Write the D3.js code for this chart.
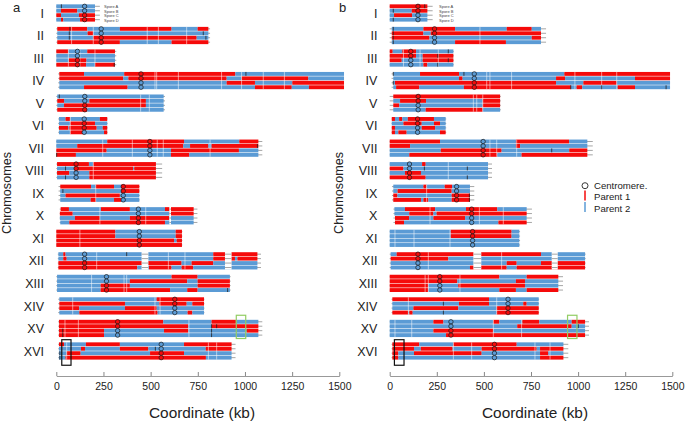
<!DOCTYPE html>
<html>
<head>
<meta charset="utf-8">
<style>
    html, body { margin: 0; padding: 0; background: #fff; }
    svg { display: block; }
    text { font-family: "Liberation Sans", Arial, sans-serif; }
</style>
<script src="https://d3js.org/d3.v7.min.js"></script>
</head>
<body>
<div id="viz"></div>
<script>
const chromNames = ["I", "II", "III", "IV", "V", "VI", "VII", "VIII", "IX", "X", "XI", "XII", "XIII", "XIV", "XV", "XVI"];
const sporeNames = ["Spore A", "Spore B", "Spore C", "Spore D"];
const centromeres = [150, 238, 112, 449, 151, 148, 496, 105, 355, 435, 440, 150, 266, 628, 325, 556];
const xTicks = [0, 250, 500, 750, 1000, 1250, 1500];

// each spore: first parent, start, breakpoints..., end (kb); parent flips at each breakpoint
const aI = [["B", 0, 205], ["B", 0, 25, 111, 205], ["R", 0, 25, 120, 205], ["B", 0, 25, 37, 126, 205]];
const aII = [["R", 5, 164, 337, 611, 749, 806], ["B", 5, 166, 196, 806], ["B", 5, 196, 744, 806], ["R", 5, 337, 611, 806]];
const aIII = [["R", 0, 64, 164, 311], ["B", 0, 311], ["B", 0, 66, 160, 311], ["R", 0, 158, 205, 311]];
const aIV = [["R", 16, 147, 360, 949, 1525], ["R", 16, 355, 382, 903, 982, 1336, 1525], ["B", 16, 903, 1053, 1251, 1525], ["B", 16, 147, 378, 1053, 1248, 1339, 1525]];
const aV = [["B", 5, 569], ["R", 5, 41, 175, 475, 569], ["B", 5, 41, 475, 569], ["R", 5, 164, 569]];
const aVI = [["B", 14, 49, 74, 231, 270], ["B", 14, 74, 205, 270], ["R", 14, 64, 69, 214, 246, 270], ["B", 14, 74, 143, 253, 270]];
const aVII = [["B", 0, 270, 677, 970, 1071], ["B", 0, 111, 673, 709, 806, 823, 1071], ["R", 0, 267, 608, 968, 1071], ["R", 0, 104, 608, 705, 1071]];
const aVIII = [["R", 4, 173, 196, 528], ["B", 4, 94, 408, 413, 528], ["R", 4, 69, 175, 528], ["B", 4, 175, 528]];
const aIX = [["R", 21, 184, 209, 306, 343, 440], ["B", 21, 343, 440], ["B", 21, 49, 337, 440], ["B", 21, 182, 210, 306, 343, 440]];
const aX = [["R", 23, 67, 237, 390, 576, 728], ["R", 19, 87, 599, 728], ["B", 19, 99, 231, 390, 599, 728], ["B", 21, 69, 576, 728]];
const aXI = [["R", 0, 313, 633, 666], ["R", 0, 313, 633, 666], ["R", 0, 624, 638, 666], ["R", 0, 666]];
const aXII = [["B", 11, 37, 49, 832, 1066], ["B", 11, 37, 55, 832, 947, 960, 1066], ["R", 11, 664, 717, 832, 1066], ["R", 11, 429, 491, 611, 664, 726, 1066]];
const aXIII = [["B", 4, 611, 749, 920], ["B", 4, 390, 694, 749, 920], ["B", 4, 235, 390, 749, 920], ["B", 4, 235, 603, 694, 749, 920]];
const aXIV = [["B", 16, 532, 783], ["R", 16, 364, 546, 691, 721, 783], ["R", 16, 122, 364, 532, 783], ["B", 16, 122, 537, 696, 721, 783]];
const aXV = [["R", 14, 567, 823, 952, 1071], ["R", 14, 700, 823, 1071], ["R", 14, 253, 571, 700, 1009, 1071], ["R", 14, 253, 1071]];
const aXVI = [["R", 14, 41, 157, 337, 677, 929], ["B", 14, 131, 152, 337, 488, 792, 929], ["B", 14, 55, 129, 497, 677, 929], ["B", 14, 49, 793, 929]];

const bI = [["R", 0, 200], ["B", 0, 117, 200], ["B", 0, 23, 119, 200], ["B", 0, 200]];
const bII = [["B", 11, 179, 347, 621, 754, 803], ["R", 11, 179, 218, 803], ["R", 11, 211, 754, 803], ["B", 11, 347, 617, 803]];
const bIII = [["R", 0, 16, 67, 140, 338], ["R", 0, 140, 175, 338], ["R", 0, 64, 175, 338], ["B", 0, 179, 200, 338]];
const bIV = [["B", 19, 161, 368, 927, 1488], ["B", 19, 368, 387, 883, 931, 1302, 1488], ["B", 19, 28, 883, 1028, 1205, 1488], ["B", 19, 34, 157, 394, 962, 992, 1022, 1210, 1302, 1488]];
const bV = [["R", 19, 586], ["B", 19, 55, 193, 494, 586], ["R", 19, 51, 494, 586], ["B", 19, 191, 494, 586]];
const bVI = [["R", 11, 28, 50, 67, 96, 235, 297], ["B", 11, 73, 170, 235, 267, 297], ["R", 11, 28, 170, 241, 297], ["R", 11, 28, 46, 90, 267, 297]];
const bVII = [["R", 0, 267, 670, 952, 1049], ["R", 0, 108, 670, 692, 1049], ["B", 0, 271, 594, 953, 1049], ["B", 0, 104, 571, 700, 1049]];
const bVIII = [["B", 0, 172, 191, 522], ["R", 0, 73, 522], ["B", 0, 81, 166, 522], ["R", 0, 191, 522]];
const bIX = [["B", 19, 179, 196, 292, 331, 426], ["B", 19, 42, 329, 426], ["R", 19, 41, 329, 426], ["R", 19, 166, 179, 205, 329, 426]];
const bX = [["B", 25, 81, 241, 405, 571, 727], ["B", 25, 104, 232, 249, 727], ["R", 28, 103, 232, 400, 727], ["R", 28, 76, 577, 727]];
const bXI = [["B", 0, 324, 647, 688], ["B", 0, 324, 647, 688], ["B", 0, 688], ["B", 0, 688]];
const bXII = [["B", 5, 37, 803, 1037], ["R", 5, 311, 1037], ["B", 5, 621, 674, 803, 1037], ["B", 5, 426, 621, 674, 1037]];
const bXIII = [["R", 0, 582, 727, 895], ["R", 0, 359, 670, 718, 895], ["R", 0, 205, 364, 718, 895], ["R", 0, 205, 582, 670, 727, 895]];
const bXIV = [["R", 14, 527, 791], ["B", 14, 368, 527, 709, 727, 791], ["B", 14, 126, 364, 568, 791], ["R", 14, 99, 104, 122, 568, 791]];
const bXV = [["B", 0, 232, 285, 550, 582, 704, 794, 966, 1037], ["B", 0, 677, 966, 1037], ["B", 0, 232, 550, 1037], ["B", 0, 299, 1037]];
const bXVI = [["R", 14, 157, 338, 674, 922], ["R", 14, 129, 165, 334, 488, 780, 798, 922], ["R", 14, 46, 129, 488, 798, 842, 922], ["R", 14, 46, 798, 922]];

const aRows = [aI, aII, aIII, aIV, aV, aVI, aVII, aVIII, aIX, aX, aXI, aXII, aXIII, aXIV, aXV, aXVI];
const bRows = [bI, bII, bIII, bIV, bV, bVI, bVII, bVIII, bIX, bX, bXI, bXII, bXIII, bXIV, bXV, bXVI];

// grey chromosome line, start and end (kb)
const aSpans = [[0, 231], [0, 815], [0, 318], [10, 1525], [0, 576], [10, 272], [0, 1092], [0, 561], [12, 442], [18, 748], [0, 668], [8, 1085], [0, 924], [10, 785], [10, 1092], [10, 950]];
const bSpans = [[0, 228], [0, 830], [0, 340], [10, 1488], [0, 590], [10, 300], [0, 1078], [0, 543], [12, 449], [20, 755], [0, 692], [0, 1040], [0, 920], [10, 793], [0, 1058], [10, 948]];

// thin white stripes where the markers are missing
const aStripes = [[], [81, 196, 482, 541, 691], [64, 125, 205], [523, 532, 647, 876, 982, 1097, 1209], [447, 493], [74], [246, 403, 535, 567, 815], [196], [209], [231, 474], [125], [214, 594, 682], [187, 359, 373], [87, 523, 550], [46, 117, 703], [55, 806, 850]];
const bStripes = [[], [479], [73, 161, 258], [515, 532, 647, 983, 1125, 1205], [444, 462, 494], [], [532, 568, 674], [311], [196], [214, 476, 603], [28, 129, 320], [205, 594], [188, 205, 373], [99, 568], [28, 117, 550, 700], [338, 435, 771, 851]];

// wider breaks in the coverage: chromosome index, from, to (kb)
const aGaps = [[9, 599, 608], [11, 452, 488], [11, 894, 929]];
const bGaps = [[11, 444, 486], [11, 860, 892]];

// small black marks: chromosome index, spore index, kb
const aMarks = [[0, 0, 27], [1, 0, 72], [1, 1, 69], [1, 2, 69], [1, 1, 779], [1, 2, 793], [2, 3, 307], [3, 0, 1005], [4, 0, 16], [6, 1, 1066], [6, 3, 2], [7, 1, 49], [7, 3, 49], [8, 1, 35], [11, 0, 373], [12, 3, 908], [14, 1, 850], [14, 1, 823], [14, 2, 823], [14, 3, 823], [14, 2, 34], [14, 3, 34], [15, 2, 19], [15, 3, 19], [15, 1, 525]];
const bMarks = [[0, 1, 19], [0, 3, 19], [0, 0, 186], [1, 0, 19], [1, 1, 19], [1, 2, 19], [1, 3, 19], [2, 1, 255], [2, 3, 255], [2, 0, 311], [2, 2, 311], [3, 0, 19], [3, 2, 19], [3, 0, 394], [3, 3, 961], [3, 3, 1125], [3, 3, 1467], [6, 2, 860], [7, 1, 184], [7, 1, 412], [7, 3, 412], [8, 2, 423], [8, 3, 423], [13, 1, 285], [13, 3, 285], [14, 1, 1001]];

// black and green boxes: from, to (kb)
const aBlackBox = [29, 78];
const aGreenBox = [954, 1004];
const bBlackBox = [25, 76];
const bGreenBox = [944, 994];

const parentColor = { R: "#f50a0a", B: "#5b9bd5" };

const width = 685;
const height = 421;
const rowStep = 4.45;
const barHeight = 3.9;
const chromY = d3.scalePoint().domain(chromNames).range([6.3, 344.3]);

const svg = d3.select("#viz").append("svg")
    .attr("width", width)
    .attr("height", height);

// turn ["R", start, bp, ..., end] into segments
function toSegments(spore) {
    const flip = { R: "B", B: "R" };
    let parent = spore[0];
    return d3.pairs(spore.slice(1)).map(([from, to]) => {
        const seg = { from, to, parent };
        parent = flip[parent];
        return seg;
    });
}

function parentAt(spore, kb) {
    const seg = toSegments(spore).find(d => kb >= d.from && kb < d.to);
    return seg ? seg.parent : spore[0];
}

function drawPanel(p) {
    const x = d3.scaleLinear().domain([0, 1500]).range(p.range);
    const marks = svg.append("g").style("filter", "blur(0.4px)");

    chromNames.forEach((name, c) => {
        const top = chromY(name);
        const rowY = s => top + s * rowStep;
        const g = marks.append("g");

        // grey lines behind the bars
        g.selectAll("line.span")
            .data(d3.range(4))
            .join("line")
            .attr("x1", x(p.spans[c][0]))
            .attr("x2", x(p.spans[c][1]))
            .attr("y1", s => rowY(s))
            .attr("y2", s => rowY(s))
            .attr("stroke", "#a6a6a6")
            .attr("stroke-width", 1);

        // parent blocks
        p.rows[c].forEach((spore, s) => {
            g.selectAll(null)
                .data(toSegments(spore))
                .join("rect")
                .attr("x", d => x(d.from))
                .attr("width", d => x(d.to) - x(d.from))
                .attr("y", rowY(s) - barHeight / 2)
                .attr("height", barHeight)
                .attr("fill", d => parentColor[d.parent]);
        });

        // white stripes
        g.selectAll(null)
            .data(p.stripes[c])
            .join("line")
            .attr("x1", d => x(d))
            .attr("x2", d => x(d))
            .attr("y1", rowY(0) - barHeight / 2)
            .attr("y2", rowY(3) + barHeight / 2)
            .attr("stroke", "#fff")
            .attr("stroke-opacity", 0.75)
            .attr("stroke-width", 0.7);

        // coverage breaks, the grey line shows through
        p.gaps.filter(d => d[0] === c).forEach(d => {
            g.append("rect")
                .attr("x", x(d[1]))
                .attr("width", x(d[2]) - x(d[1]))
                .attr("y", rowY(0) - barHeight / 2 - 0.2)
                .attr("height", rowStep * 3 + barHeight + 0.4)
                .attr("fill", "#fff");
            g.selectAll(null)
                .data(d3.range(4))
                .join("line")
                .attr("x1", x(d[1]))
                .attr("x2", x(d[2]))
                .attr("y1", s => rowY(s))
                .attr("y2", s => rowY(s))
                .attr("stroke", "#a6a6a6")
                .attr("stroke-width", 1);
        });

        // black marks
        g.selectAll(null)
            .data(p.marks.filter(d => d[0] === c))
            .join("line")
            .attr("x1", d => x(d[2]))
            .attr("x2", d => x(d[2]))
            .attr("y1", d => rowY(d[1]) - barHeight / 2)
            .attr("y2", d => rowY(d[1]) + barHeight / 2)
            .attr("stroke", "#222")
            .attr("stroke-width", 0.8);

        // centromeres
        g.selectAll(null)
            .data(d3.range(4))
            .join("circle")
            .attr("cx", x(centromeres[c]))
            .attr("cy", s => rowY(s))
            .attr("r", 2.2)
            .attr("fill", s => parentColor[parentAt(p.rows[c][s], centromeres[c])])
            .attr("stroke", "#1a1a1a")
            .attr("stroke-width", 0.7);

        // chromosome label
        svg.append("text")
            .attr("x", x(0) - 12.3)
            .attr("y", top + rowStep * 1.5 + 4.6)
            .attr("text-anchor", "end")
            .attr("font-size", 12.5)
            .attr("fill", "#222")
            .text(name);
    });

    // spore names next to chromosome I
    svg.selectAll(null)
        .data(sporeNames.map((d, s) => ({ name: d, s })), d => d.name + p.letter)
        .join("text")
        .attr("x", p.sporeX)
        .attr("y", d => chromY("I") + d.s * 4.9 + 1.3)
        .attr("font-size", 4)
        .attr("fill", "#444")
        .text(d => d.name);

    // boxes around the two regions
    const boxY = [chromY("XVI") - 4.6, chromY("XVI") + rowStep * 3 + 7.6];
    const greenY = [chromY("XV") - 6.5, chromY("XV") + rowStep * 3 + 3.4];
    svg.append("rect")
        .attr("x", x(p.blackBox[0]))
        .attr("width", x(p.blackBox[1]) - x(p.blackBox[0]))
        .attr("y", boxY[0])
        .attr("height", boxY[1] - boxY[0])
        .attr("fill", "none")
        .attr("stroke", "#111")
        .attr("stroke-width", 1.2);
    svg.append("rect")
        .attr("x", x(p.greenBox[0]))
        .attr("width", x(p.greenBox[1]) - x(p.greenBox[0]))
        .attr("y", greenY[0])
        .attr("height", greenY[1] - greenY[0])
        .attr("fill", "none")
        .attr("stroke", "#92cd64")
        .attr("stroke-width", 1.2);

    // x axis, ticks point up from the line
    const axis = svg.append("g")
        .attr("transform", "translate(0,376)")
        .call(d3.axisBottom(x).tickValues(xTicks).tickSizeInner(-4).tickSizeOuter(0).tickFormat(d3.format("d")));
    axis.select(".domain").attr("stroke", "#999");
    axis.selectAll(".tick line").attr("stroke", "#888");
    axis.selectAll(".tick text")
        .attr("y", 7)
        .attr("font-family", "Liberation Sans, Arial, sans-serif")
        .attr("font-size", 10.5)
        .attr("fill", "#222");

    svg.append("text")
        .attr("x", p.titleX)
        .attr("y", 417.5)
        .attr("text-anchor", "middle")
        .attr("font-size", 15.4)
        .attr("fill", "#222")
        .text("Coordinate (kb)");

    svg.append("text")
        .attr("transform", `translate(${p.yLabelX},193) rotate(-90)`)
        .attr("text-anchor", "middle")
        .attr("font-size", 12.6)
        .attr("fill", "#222")
        .text("Chromosomes");

    svg.append("text")
        .attr("x", p.letterX)
        .attr("y", 12)
        .attr("font-size", 13)
        .attr("fill", "#222")
        .text(p.letter);
}

drawPanel({
    letter: "a", letterX: 13, range: [56.3, 339.3], rows: aRows, spans: aSpans, stripes: aStripes,
    gaps: aGaps, marks: aMarks, blackBox: aBlackBox, greenBox: aGreenBox,
    sporeX: 104, titleX: 202, yLabelX: 10.5
});
drawPanel({
    letter: "b", letterX: 339, range: [389.7, 672.3], rows: bRows, spans: bSpans, stripes: bStripes,
    gaps: bGaps, marks: bMarks, blackBox: bBlackBox, greenBox: bGreenBox,
    sporeX: 439, titleX: 535, yLabelX: 343
});

// legend in panel b
const legendX = 585;
svg.append("circle")
    .attr("cx", legendX).attr("cy", 185.7).attr("r", 3)
    .attr("fill", "none").attr("stroke", "#222").attr("stroke-width", 0.9);
svg.append("line")
    .attr("x1", legendX).attr("x2", legendX).attr("y1", 190.5).attr("y2", 200.5)
    .attr("stroke", parentColor.R).attr("stroke-width", 1.5);
svg.append("line")
    .attr("x1", legendX).attr("x2", legendX).attr("y1", 202).attr("y2", 212)
    .attr("stroke", parentColor.B).attr("stroke-width", 1.5);
svg.selectAll(null)
    .data(["Centromere.", "Parent 1", "Parent 2"])
    .join("text")
    .attr("x", 594)
    .attr("y", (d, i) => 189.3 + i * 11.1)
    .attr("font-size", 9.6)
    .attr("fill", "#222")
    .text(d => d);
</script>
</body>
</html>
